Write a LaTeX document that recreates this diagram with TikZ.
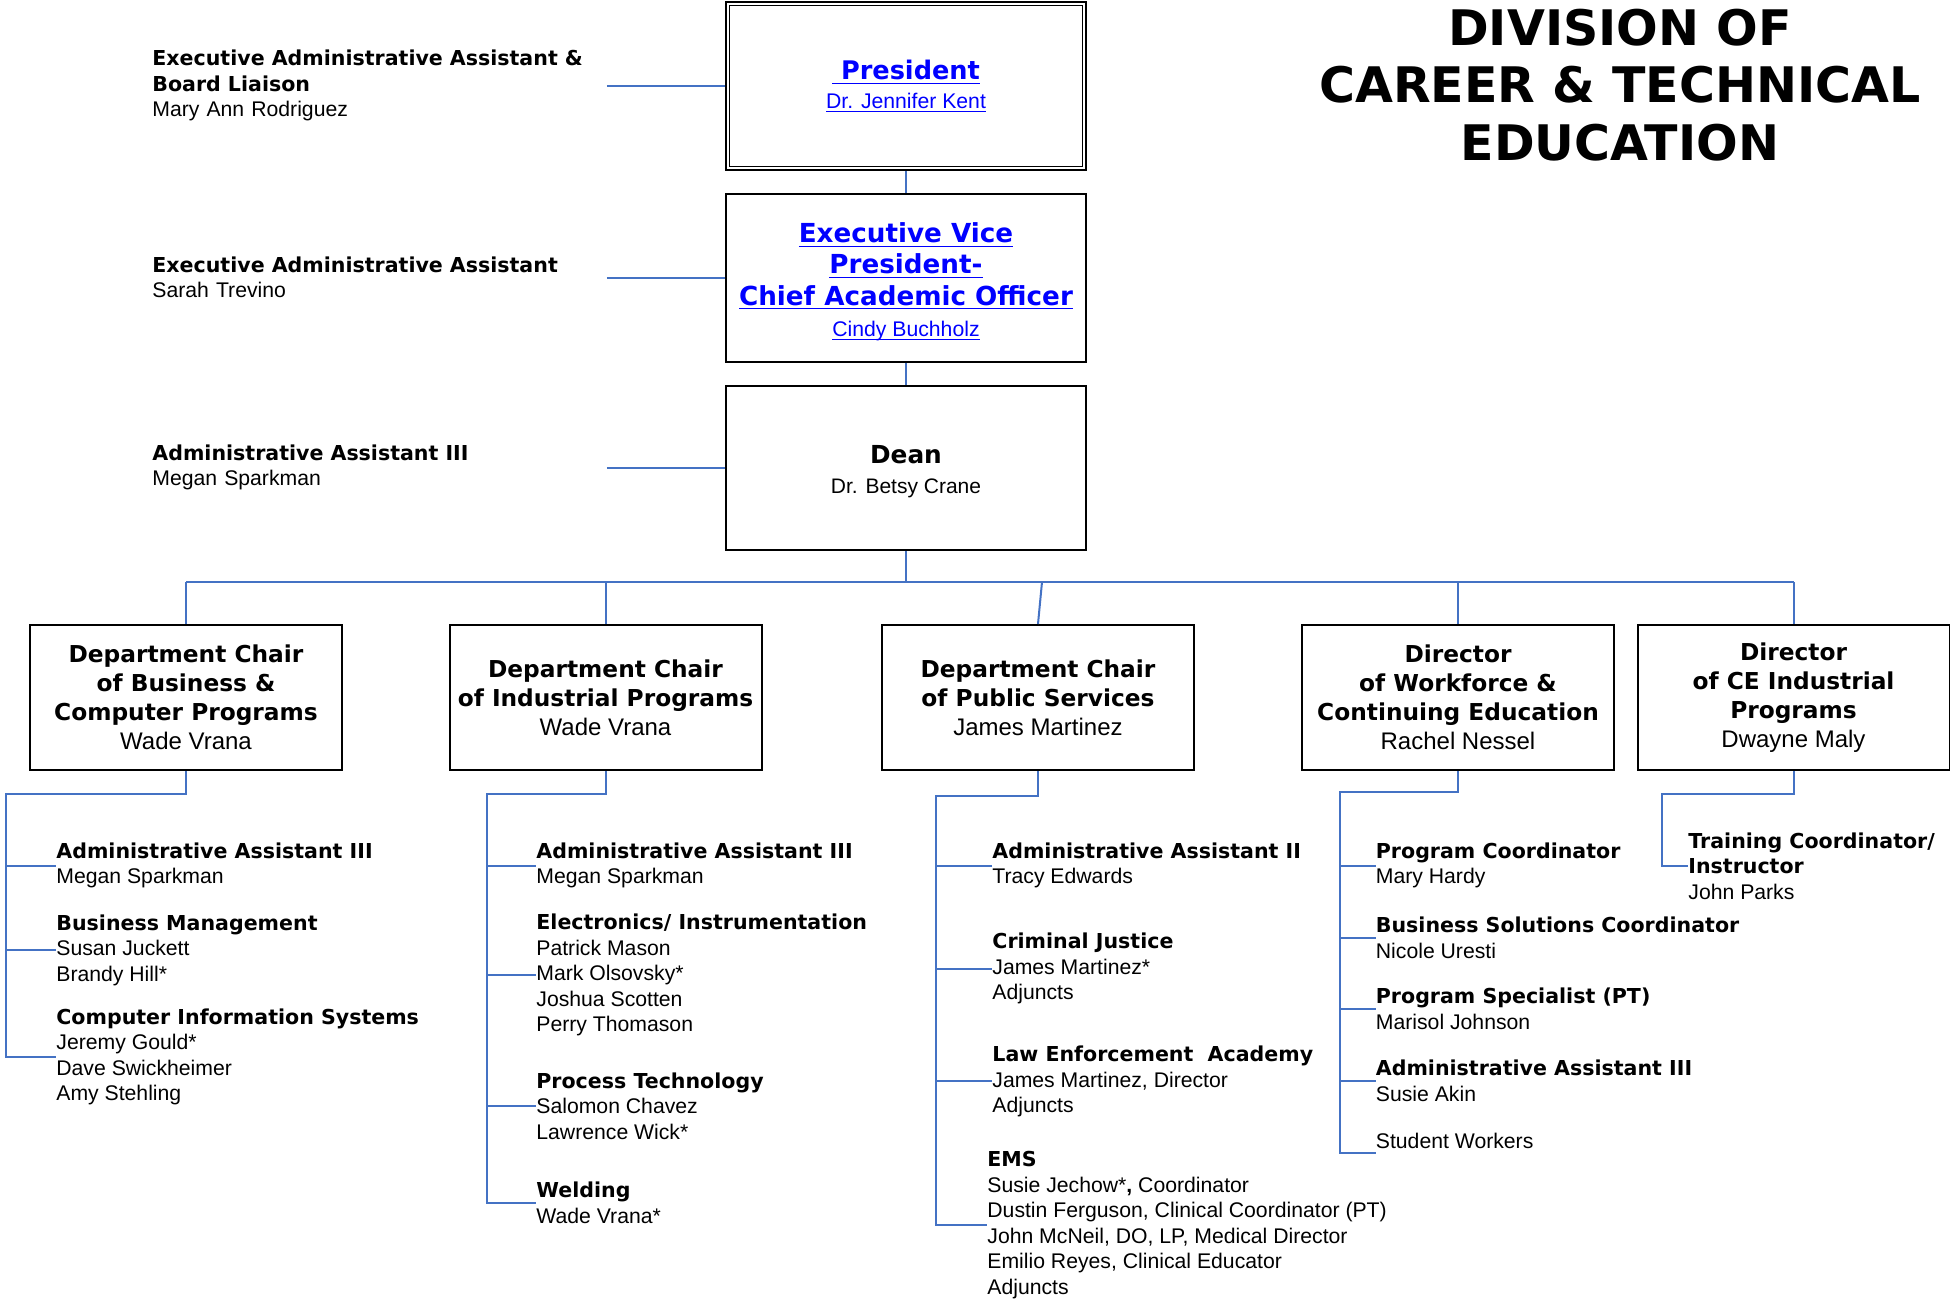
\documentclass[tikz,border=0pt]{standalone}
\usepackage{fontspec}
\setmainfont{Liberation Sans}
\newfontfamily\heavy{DejaVu Sans}
\newfontfamily\heavyS{DejaVu Sans}[Scale=0.97]
\definecolor{linkblue}{RGB}{68,114,196}
\definecolor{hyperblue}{RGB}{0,0,255}
\newcommand\hd[1]{{\heavyS\bfseries #1}}
\newsavebox\ulbox
\newcommand\ulink[1]{\sbox\ulbox{#1}\rlap{\usebox\ulbox}\rule[-0.17em]{\wd\ulbox}{0.6pt}}
\tikzset{
link/.style={draw=linkblue, line width=1pt}, % blue org chart lines
topbox/.style={draw, line width=1pt, minimum width=180pt, inner sep=0pt, align=center}, % president, evp, dean
chairbox/.style={draw, line width=1pt, minimum width=156pt, minimum height=72.5pt, inner sep=0pt, align=center, font=\fontsize{12pt}{14.5pt}\selectfont}, % second row
staff/.style={anchor=west, inner sep=0pt, align=left, font=\fontsize{10.6pt}{12.75pt}\selectfont}, % text blocks without a frame
}

\begin{document}
\begin{tikzpicture}[x=0.5pt, y=-0.5pt]
        \useasboundingbox (0,0) rectangle (1950,1301);

        \node[align=center, font=\heavy\bfseries\fontsize{24.5pt}{28.8pt}\selectfont] (title) at (1620,85) {DIVISION OF\\CAREER \& TECHNICAL\\EDUCATION};

        % top of the chart
        \node[topbox, minimum height=84pt, line width=1.4pt, text=hyperblue, font=\fontsize{10.6pt}{14.4pt}\selectfont] (pres) at (906,86)
            {{\heavy\bfseries\fontsize{12.8pt}{14.4pt}\selectfont\ulink{\ President}}\\\ulink{Dr. Jennifer Kent}};
        \draw[thin] ([shift={(5,5)}]pres.north west) rectangle ([shift={(-5,-5)}]pres.south east);
        \node[topbox, minimum height=84pt, text=hyperblue, font=\fontsize{10.6pt}{15.6pt}\selectfont] (evp) at (906,278)
            {\\[-2pt]{\heavy\bfseries\fontsize{13.1pt}{15.8pt}\selectfont\ulink{Executive Vice}}\\{\heavy\bfseries\fontsize{13.1pt}{15.8pt}\selectfont\ulink{President-}}\\{\heavy\bfseries\fontsize{13.1pt}{15.8pt}\selectfont\ulink{Chief Academic Officer}}\\\ulink{Cindy Buchholz}};
        \node[topbox, minimum height=82pt, font=\fontsize{10.5pt}{15pt}\selectfont] (dean) at (906,468)
            {{\heavy\bfseries\fontsize{12.4pt}{15pt}\selectfont\rule{0pt}{13pt}Dean}\\Dr. Betsy Crane};

        \node[staff, text width=227pt] (ea1) at (152,85.5) {\hd{Executive Administrative Assistant \&}\\\hd{Board Liaison}\\Mary Ann Rodriguez};
        \node[staff, text width=227pt] (ea2) at (152,277.5) {\hd{Executive Administrative Assistant}\\Sarah Trevino};
        \node[staff, text width=227pt] (ea3) at (152,467.5) {\hd{Administrative Assistant III}\\Megan Sparkman};

        \draw[link] (pres.south) -- (evp.north);
        \draw[link] (evp.south) -- (dean.north);
        \draw[link] (ea1.east) -- (ea1.east -| pres.west);
        \draw[link] (ea2.east) -- (ea2.east -| evp.west);
        \draw[link] (ea3.east) -- (ea3.east -| dean.west);

        % second row
        \node[chairbox] (buscomp) at (186,697.5) {\hd{Department Chair}\\\hd{of Business \&}\\\hd{Computer Programs}\\Wade Vrana};
        \node[chairbox] (indprog) at (605.5,697.5) {\hd{Department Chair}\\\hd{of Industrial Programs}\\Wade Vrana};
        \node[chairbox] (pubserv) at (1038,697.5) {\hd{Department Chair}\\\hd{of Public Services}\\James Martinez};
        \node[chairbox] (workforce) at (1458,697.5) {\hd{Director}\\\hd{of Workforce \&}\\\hd{Continuing Education}\\Rachel Nessel};
        \node[chairbox] (ceind) at (1793.5,697.5) {\hd{Director}\\\hd{of CE Industrial}\\\hd{Programs}\\Dwayne Maly};

        \coordinate (bus) at (906,582);
        \draw[link] (dean.south) -- (bus);
        \draw[link] (bus -| buscomp.north) -- (bus -| ceind.north);
        \foreach \n in {buscomp, indprog, workforce, ceind}
            \draw[link] (bus -| \n.north) -- (\n.north);
        \path (bus -| pubserv.north) ++(4,0) coordinate (pubbus);
        \draw[link] (pubbus) -- (pubserv.north);

        % business & computer programs
        \node[staff] (bc1) at (56,865.5) {\hd{Administrative Assistant III}\\Megan Sparkman};
        \node[staff] (bc2) at (56,950) {\hd{Business Management}\\Susan Juckett\\Brandy Hill*};
        \node[staff] (bc3) at (56,1057) {\hd{Computer Information Systems}\\Jeremy Gould*\\Dave Swickheimer\\Amy Stehling};
        \coordinate (tA) at (6,794);
        \draw[link] (buscomp.south) |- (tA) -- (tA |- bc3.west) -- (bc3.west);
        \foreach \n in {bc1, bc2}
            \draw[link] (tA |- \n.west) -- (\n.west);

        % industrial programs
        \node[staff] (ip1) at (536,865.5) {\hd{Administrative Assistant III}\\Megan Sparkman};
        \node[staff] (ip2) at (536,975) {\hd{Electronics/ Instrumentation}\\Patrick Mason\\Mark Olsovsky*\\Joshua Scotten\\Perry Thomason};
        \node[staff] (ip3) at (536,1106) {\hd{Process Technology}\\Salomon Chavez\\Lawrence Wick*};
        \node[staff] (ip4) at (536,1203) {\hd{Welding}\\Wade Vrana*};
        \coordinate (tB) at (487,794);
        \draw[link] (indprog.south) |- (tB) -- (tB |- ip4.west) -- (ip4.west);
        \foreach \n in {ip1, ip2, ip3}
            \draw[link] (tB |- \n.west) -- (\n.west);

        % public services
        \node[staff] (ps1) at (992,865.5) {\hd{Administrative Assistant II}\\Tracy Edwards};
        \node[staff] (ps2) at (992,968.5) {\hd{Criminal Justice}\\James Martinez*\\Adjuncts};
        \node[staff] (ps3) at (992,1081.4) {\hd{Law Enforcement\ \ Academy}\\James Martinez, Director\\Adjuncts};
        \node[staff] (ps4) at (987,1225) {\hd{EMS}\\Susie Jechow*\textbf{,} Coordinator\\Dustin Ferguson, Clinical Coordinator (PT)\\John McNeil, DO, LP, Medical Director\\Emilio Reyes, Clinical Educator\\Adjuncts};
        \coordinate (tC) at (935.5,796);
        \draw[link] (pubserv.south) |- (tC) -- (tC |- ps4.west) -- (ps4.west);
        \foreach \n in {ps1, ps2, ps3}
            \draw[link] (tC |- \n.west) -- (\n.west);

        % workforce & continuing education
        \node[staff] (wf1) at (1375.5,865.5) {\hd{Program Coordinator}\\Mary Hardy};
        \node[staff] (wf2) at (1375.5,938) {\hd{Business Solutions Coordinator}\\Nicole Uresti};
        \node[staff] (wf3) at (1375.5,1009) {\hd{Program Specialist (PT)}\\Marisol Johnson};
        \node[staff] (wf4) at (1375.5,1081) {\hd{Administrative Assistant III}\\Susie Akin};
        \node[staff] (wf5) at (1375.5,1153.4) {Student Workers\\\mbox{}};
        \coordinate (tD) at (1340,792);
        \draw[link] (workforce.south) |- (tD) -- (tD |- wf5.west) -- (wf5.west);
        \foreach \n in {wf1, wf2, wf3, wf4}
            \draw[link] (tD |- \n.west) -- (\n.west);

        % ce industrial programs
        \node[staff] (ce1) at (1688,866) {\hd{Training Coordinator/}\\\hd{Instructor}\\John Parks};
        \coordinate (tE) at (1662,794);
        \draw[link] (ceind.south) |- (tE) |- (ce1.west);
    \end{tikzpicture}
\end{document}
